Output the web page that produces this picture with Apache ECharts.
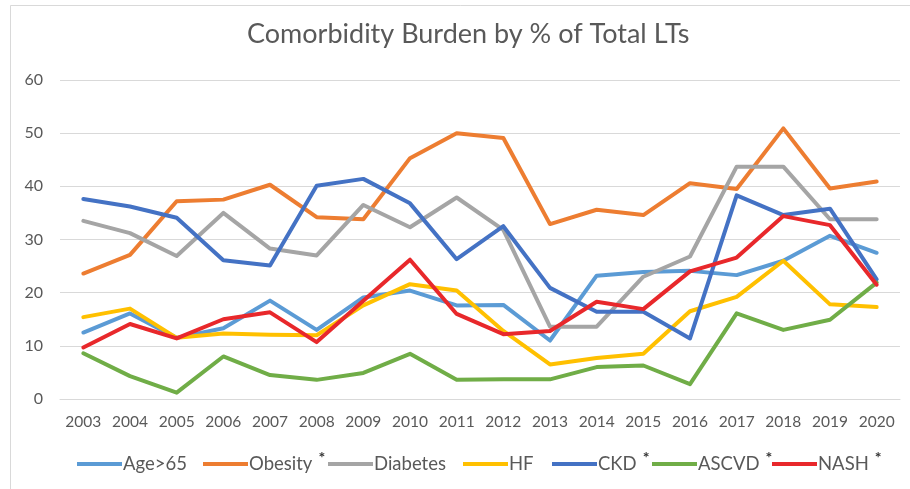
<!DOCTYPE html>
<html>
<head>
<meta charset="utf-8">
<script src="https://cdn.jsdelivr.net/npm/echarts@6/dist/echarts.min.js"></script>
<style>
html,body{margin:0;padding:0;background:#fff;}
#chart{width:910px;height:489px;}
</style>
</head>
<body>
<div id="chart"></div>
<script>
var years = ['2003','2004','2005','2006','2007','2008','2009','2010','2011','2012','2013','2014','2015','2016','2017','2018','2019','2020'];
var age65    = [12.5,16.1,11.5,13.3,18.5,13.0,19.1,20.4,17.6,17.7,11.0,23.2,23.9,24.1,23.3,26.0,30.7,27.5];
var obesity  = [23.6,27.1,37.2,37.5,40.3,34.2,33.8,45.3,50.0,49.1,32.9,35.6,34.6,40.6,39.5,50.9,39.6,40.9];
var diabetes = [33.5,31.2,26.9,35.0,28.3,27.0,36.5,32.3,37.9,31.8,13.6,13.6,23.0,26.8,43.7,43.7,33.8,33.8];
var hf       = [15.4,17.0,11.5,12.3,12.1,12.0,17.6,21.6,20.4,12.8,6.5,7.7,8.5,16.5,19.2,26.0,17.8,17.3];
var ckd      = [37.6,36.2,34.1,26.1,25.1,40.1,41.4,36.8,26.3,32.5,20.9,16.4,16.4,11.4,38.3,34.6,35.8,22.5];
var ascvd    = [8.6,4.3,1.2,8.0,4.5,3.6,4.9,8.5,3.6,3.7,3.7,6.0,6.3,2.8,16.1,13.0,14.9,21.9];
var nash     = [9.7,14.1,11.4,15.0,16.3,10.7,18.5,26.2,16.0,12.2,12.8,18.3,16.9,24.0,26.6,34.4,32.7,21.5];

var seriesNames = ['Age>65','Obesity','Diabetes','HF','CKD','ASCVD','NASH'];
var starred = {'Obesity':true,'CKD':true,'ASCVD':true,'NASH':true};
var seriesData = [age65, obesity, diabetes, hf, ckd, ascvd, nash];
var colors = ['#5B9BD5','#ED7D31','#A5A5A5','#FFC000','#4472C4','#70AD47','#E8282B'];
var legendLeft = [77, 203, 328, 463, 552, 652, 772];

var FONT = 'Lato';
var chart = echarts.init(document.getElementById('chart'), null, {renderer:'canvas'});

var starStyle = { fontFamily: FONT, fontSize: 16, fontWeight: 'bold', color: '#333333', padding: [0,0,12,6] };
var hiddenStar = { fontFamily: FONT, fontSize: 16, fontWeight: 'bold', color: 'rgba(0,0,0,0)', padding: [0,0,12,0], width: 0 };

var legends = seriesNames.map(function(n, i){
  return {
    data: [n],
    left: legendLeft[i],
    top: 450,
    icon: 'rect',
    itemWidth: 45,
    itemHeight: 4,
    itemGap: 0,
    padding: 0,
    textStyle: {
      fontFamily: FONT, fontSize: 18.5, color: '#595959', padding: [0,0,0,-4],
      rich: { s: starStyle, h: hiddenStar }
    },
    formatter: function(name){ return starred[name] ? name + '{s|*}' : name + '{h| }'; }
  };
});

var option = {
  backgroundColor: '#ffffff',
  animation: false,
  color: colors,
  title: {
    text: 'Comorbidity Burden by % of Total LTs',
    left: 247,
    top: 21,
    padding: 0,
    textStyle: { fontFamily: FONT, fontSize: 27, fontWeight: 'normal', color: '#595959' }
  },
  graphic: [{
    type: 'rect', silent: true, z: -1,
    shape: { x: 10.5, y: 5.5, width: 920, height: 520 },
    style: { fill: 'none', stroke: '#D9D9D9', lineWidth: 1 }
  }],
  legend: legends,
  grid: { left: 60, right: 10, top: 80, bottom: 90, containLabel: false },
  xAxis: {
    type: 'category',
    data: years,
    boundaryGap: true,
    axisLine: { show: true, lineStyle: { color: '#D9D9D9', width: 1 } },
    axisTick: { show: false },
    axisLabel: { fontFamily: FONT, fontSize: 15.5, color: '#595959', margin: 15, interval: 0 }
  },
  yAxis: {
    type: 'value',
    min: 0, max: 60, interval: 10,
    axisLine: { show: false },
    axisTick: { show: false },
    splitLine: { lineStyle: { color: '#D9D9D9', width: 1 } },
    axisLabel: { fontFamily: FONT, fontSize: 16, color: '#595959', margin: 17 }
  },
  series: seriesNames.map(function(n, i){
    return {
      name: n,
      type: 'line',
      data: seriesData[i],
      symbol: 'none',
      lineStyle: { width: 4, color: colors[i], cap: 'round', join: 'round' },
      itemStyle: { color: colors[i] }
    };
  })
};
chart.setOption(option);
</script>
</body>
</html>
